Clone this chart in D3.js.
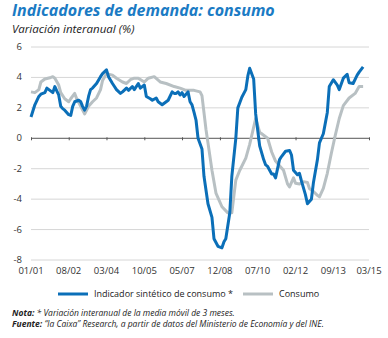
<!DOCTYPE html>
<html>
<head>
<meta charset="utf-8">
<script src="https://cdn.jsdelivr.net/npm/d3@7"></script>
<style>
  body { margin: 0; background: #fff; }
  svg { display: block; font-family: "Open Sans", sans-serif; }
</style>
</head>
<body>
<div id="chart"></div>
<script>
// Indicador sintético de consumo * (año-mes, valor)
const indicadorFechas = ["2001-01","2001-03","2001-05","2001-06","2001-08","2001-09","2001-11","2001-12","2002-01","2002-02","2002-03","2002-04","2002-05","2002-06","2002-08","2002-09","2002-10","2002-11","2003-01","2003-02","2003-03","2003-04","2003-05","2003-06","2003-07","2003-08","2003-10","2003-12","2004-01","2004-03","2004-04","2004-06","2004-07","2004-08","2004-10","2004-11","2005-01","2005-02","2005-04","2005-05","2005-07","2005-08","2005-10","2005-11","2006-01","2006-02","2006-04","2006-05","2006-07","2006-08","2006-09","2006-10","2006-12","2007-01","2007-02","2007-03","2007-04","2007-05","2007-06","2007-08","2007-09","2007-10","2007-11","2007-12","2008-01","2008-03","2008-04","2008-06","2008-08","2008-09","2008-11","2009-01","2009-02","2009-03","2009-05","2009-06","2009-08","2009-09","2009-11","2010-01","2010-02","2010-03","2010-05","2010-06","2010-08","2010-10","2010-11","2010-12","2011-02","2011-03","2011-04","2011-06","2011-07","2011-09","2011-11","2011-12","2012-01","2012-03","2012-04","2012-05","2012-07","2012-08","2012-10","2012-11","2013-01","2013-02","2013-04","2013-06","2013-07","2013-09","2013-11","2013-12","2014-02","2014-04","2014-05","2014-07","2014-09","2014-10","2014-12","2015-03"];
const indicadorValores = [1.4,2.2,2.75,2.9,3.0,3.3,3.1,3.0,3.4,3.1,2.85,2.1,1.95,1.85,1.55,1.5,2.1,2.4,2.5,2.4,2.1,1.85,2.1,2.75,3.2,3.3,3.6,4.05,4.25,4.5,4.05,3.6,3.4,3.2,2.95,3.05,3.3,3.15,3.4,3.2,3.6,3.3,3.5,2.75,2.6,2.5,2.65,2.4,2.2,2.3,2.4,2.5,3.05,2.95,2.95,3.05,2.85,3.0,2.75,3.05,2.4,2.2,1.7,1.2,0,-0.7,-2.5,-4.3,-5.2,-6.6,-7.1,-7.2,-6.8,-6.6,-4.9,-2.5,0,2.0,2.7,3.2,4.1,4.6,3.9,1.6,-0.5,-1.4,-1.75,-1.85,-2.35,-2.35,-2.6,-1.4,-1.2,-0.85,-0.8,-1.1,-2.1,-2.4,-2.3,-2.8,-3.7,-4.3,-4.0,-2.9,-1.4,-0.3,0.3,1.7,3.4,3.85,3.5,3.2,3.95,4.2,3.65,3.6,4.15,4.35,4.7];

// Consumo
const consumoFechas = ["2001-01","2001-03","2001-05","2001-06","2001-08","2001-11","2001-12","2002-01","2002-03","2002-04","2002-06","2002-08","2002-09","2002-11","2002-12","2003-02","2003-04","2003-06","2003-08","2003-10","2003-12","2004-01","2004-03","2004-06","2004-08","2004-11","2005-01","2005-03","2005-05","2005-07","2005-10","2005-12","2006-03","2006-06","2006-09","2007-01","2007-04","2007-07","2007-11","2008-02","2008-03","2008-05","2008-06","2008-08","2008-10","2009-01","2009-04","2009-06","2009-08","2009-10","2010-01","2010-03","2010-06","2010-08","2010-10","2010-12","2011-02","2011-04","2011-06","2011-08","2011-10","2011-11","2012-01","2012-02","2012-04","2012-06","2012-08","2012-09","2012-11","2013-01","2013-02","2013-04","2013-06","2013-08","2013-10","2013-12","2014-02","2014-05","2014-08","2014-10","2014-12"];
const consumoValores = [3.05,3.0,3.2,3.7,3.9,4.0,4.05,3.95,3.5,3.0,2.6,2.4,2.6,2.95,2.6,2.1,1.6,2.1,2.4,2.65,3.2,3.8,4.25,4.15,3.95,3.7,3.6,3.85,3.95,3.95,3.7,3.95,4.05,3.7,3.6,3.4,3.3,3.15,3.15,3.05,2.8,0.6,-0.3,-2.1,-3.6,-4.5,-4.9,-4.9,-2.75,-2.1,-1.3,-0.4,1.3,0.4,0.2,0,-0.9,-1.5,-1.8,-2.1,-3.0,-3.2,-2.6,-2.95,-3.0,-2.85,-2.9,-3.3,-3.5,-3.75,-3.85,-3.3,-2.3,-1.0,0.2,1.3,2.15,2.65,2.95,3.4,3.4];

const yTicks = [-8,-6,-4,-2,0,2,4,6];
const xTickFechas = ["2001-01","2002-08","2004-03","2005-10","2007-05","2008-12","2010-07","2012-02","2013-09","2015-03"];
const xTickEtiquetas = ["01/01","08/02","03/04","10/05","05/07","12/08","07/10","02/12","09/13","03/15"];

const azul = "#0b6fb8";
const gris = "#b8c0c3";

const width = 388, height = 338;
const parse = d3.timeParse("%Y-%m");

const svg = d3.select("#chart").append("svg")
  .attr("width", width)
  .attr("height", height);

const x = d3.scaleTime()
  .domain([parse("2001-01"), parse("2015-03")])
  .range([31, 369]);
const y = d3.scaleLinear().domain([-8, 6]).range([260, 47]);

// titles
svg.append("text")
  .attr("x", 12).attr("y", 15.5)
  .attr("fill", "#1b7bc4")
  .attr("font-size", 16).attr("font-weight", "bold").attr("font-style", "italic")
  .text("Indicadores de demanda: consumo");
svg.append("text")
  .attr("x", 12).attr("y", 33)
  .attr("fill", "#222")
  .attr("font-size", 11.5).attr("font-style", "italic")
  .text("Variación interanual (%)");

// grid
svg.append("g").selectAll("line")
  .data(yTicks.filter(d => d !== 0))
  .enter().append("line")
  .attr("x1", 31).attr("x2", 369)
  .attr("y1", d => y(d)).attr("y2", d => y(d))
  .attr("stroke", "#d6d6d6").attr("stroke-width", 1);

// y labels
svg.append("g").selectAll("text")
  .data(yTicks)
  .enter().append("text")
  .attr("x", 22).attr("y", d => y(d) + 3)
  .attr("text-anchor", "end")
  .attr("font-size", 9.5).attr("fill", "#333")
  .text(d => d);

// zero axis
const xAxis = d3.axisBottom(x)
  .tickValues(xTickFechas.map(parse))
  .tickSize(3)
  .tickFormat("");
svg.append("g")
  .attr("transform", "translate(0," + (y(0) - 1) + ")")
  .call(xAxis)
  .call(g => g.select(".domain").remove())
  .selectAll("line").attr("stroke", "#555");
svg.append("line")
  .attr("x1", 31).attr("x2", 369)
  .attr("y1", y(0)).attr("y2", y(0))
  .attr("stroke", "#555").attr("stroke-width", 1);

// x labels
svg.append("g").selectAll("text")
  .data(xTickFechas)
  .enter().append("text")
  .attr("x", d => x(parse(d)))
  .attr("y", 274)
  .attr("text-anchor", "middle")
  .attr("font-size", 9.5).attr("fill", "#333")
  .text((d, i) => xTickEtiquetas[i]);

// lines
const line = d3.line()
  .x(d => x(parse(d[0])))
  .y(d => y(d[1]));

svg.append("path")
  .datum(consumoFechas.map((f, i) => [f, consumoValores[i]]))
  .attr("d", line)
  .attr("fill", "none").attr("stroke", gris)
  .attr("stroke-width", 3).attr("stroke-linejoin", "round");

svg.append("path")
  .datum(indicadorFechas.map((f, i) => [f, indicadorValores[i]]))
  .attr("d", line)
  .attr("fill", "none").attr("stroke", azul)
  .attr("stroke-width", 3).attr("stroke-linejoin", "round");

// legend
const leyenda = [
  {nombre: "Indicador sintético de consumo *", color: azul, x: 58},
  {nombre: "Consumo", color: gris, x: 243}
];
const lg = svg.append("g").selectAll("g")
  .data(leyenda).enter().append("g");
lg.append("line")
  .attr("x1", d => d.x).attr("x2", d => d.x + 30)
  .attr("y1", 294).attr("y2", 294)
  .attr("stroke", d => d.color).attr("stroke-width", 3);
lg.append("text")
  .attr("x", d => d.x + 36).attr("y", 297)
  .attr("font-size", 9).attr("fill", "#222")
  .text(d => d.nombre);

// notes
const nota = svg.append("text")
  .attr("x", 12).attr("y", 316)
  .attr("font-size", 8.5).attr("font-style", "italic").attr("fill", "#222");
nota.append("tspan").attr("font-weight", "bold").text("Nota: ");
nota.append("tspan").text("* Variación interanual de la media móvil de 3 meses.");

const fuente = svg.append("text")
  .attr("x", 12).attr("y", 326.5)
  .attr("font-size", 8.5).attr("font-style", "italic").attr("fill", "#222");
fuente.append("tspan").attr("font-weight", "bold").text("Fuente: ");
fuente.append("tspan").text("“la Caixa” Research, a partir de datos del Ministerio de Economía y del INE.");
</script>
</body>
</html>
